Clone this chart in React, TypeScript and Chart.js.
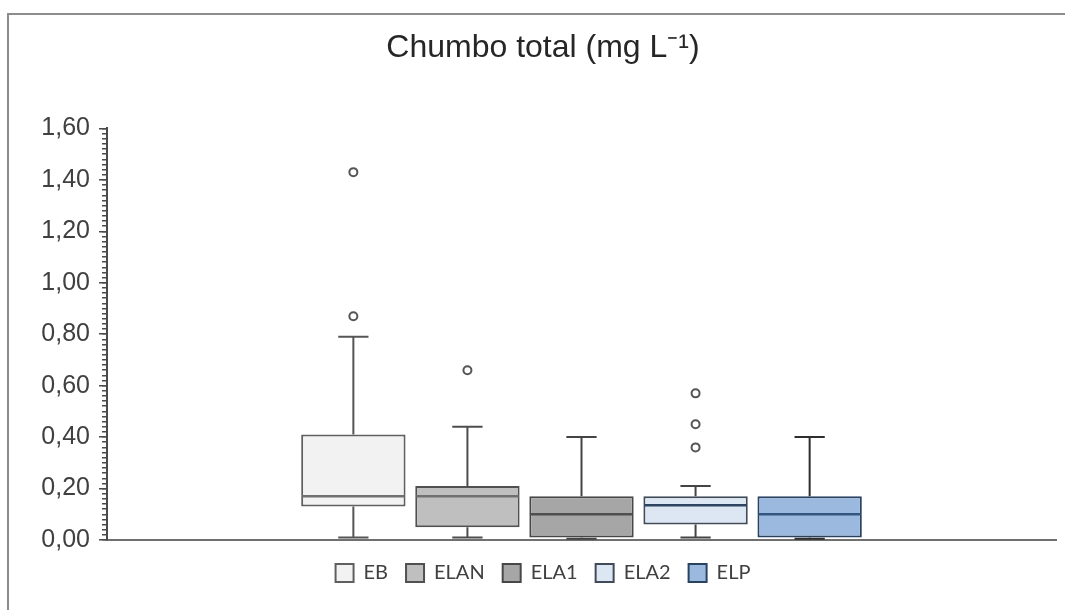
import React, { useEffect, useRef } from 'react';
import { Chart, registerables } from 'chart.js';

Chart.register(...registerables);

// ---- data ----
const titleText = 'Chumbo total (mg L⁻¹)';
const groups = ['EB', 'ELAN', 'ELA1', 'ELA2', 'ELP'];
const q1 = [0.13, 0.05, 0.01, 0.06, 0.01];
const q3 = [0.41, 0.21, 0.17, 0.17, 0.17];
const medians = [0.17, 0.17, 0.1, 0.135, 0.1];
const whiskerLow = [0.01, 0.01, 0.005, 0.01, 0.005];
const whiskerHigh = [0.79, 0.44, 0.4, 0.21, 0.4];
const outliers: number[][] = [[0.87, 1.43], [0.66], [], [0.36, 0.45, 0.57], []];
const yMin = 0;
const yMax = 1.6;
const yMajorStep = 0.2;
const yMinorStep = 0.02;

// ---- styles ----
const fills = ['#f2f2f2', '#bfbfbf', '#a6a6a6', '#dde6f3', '#9bb9de'];
const borders = ['#5f5f5f', '#505050', '#474747', '#404b5a', '#2a4262'];
const medianColors = ['#707070', '#707070', '#4f4f4f', '#2f4460', '#34577f'];
const whiskerColors = ['#555555', '#4d4d4d', '#444444', '#444444', '#2e2e2e'];

const boxDetails = {
  id: 'boxDetails',
  afterDatasetsDraw(chart: any) {
    const ctx = chart.ctx;
    const ys = chart.scales.y;
    groups.forEach((_, i) => {
      const bar: any = chart.getDatasetMeta(i).data[0];
      if (!bar) return;
      const x = bar.x;
      const w = bar.width;
      const cap = w * 0.29;
      const py = (v: number) => ys.getPixelForValue(v);
      ctx.save();
      ctx.lineCap = 'butt';
      // whiskers
      ctx.strokeStyle = whiskerColors[i];
      ctx.lineWidth = 2;
      ctx.beginPath();
      ctx.moveTo(x, py(q3[i]));
      ctx.lineTo(x, py(whiskerHigh[i]));
      ctx.moveTo(x - cap / 2, py(whiskerHigh[i]));
      ctx.lineTo(x + cap / 2, py(whiskerHigh[i]));
      ctx.moveTo(x, py(q1[i]));
      ctx.lineTo(x, py(whiskerLow[i]));
      ctx.moveTo(x - cap / 2, py(whiskerLow[i]));
      ctx.lineTo(x + cap / 2, py(whiskerLow[i]));
      ctx.stroke();
      // median
      ctx.strokeStyle = medianColors[i];
      ctx.lineWidth = 2.5;
      ctx.beginPath();
      ctx.moveTo(x - w / 2 + 1, py(medians[i]));
      ctx.lineTo(x + w / 2 - 1, py(medians[i]));
      ctx.stroke();
      // outliers
      outliers[i].forEach((v) => {
        ctx.beginPath();
        ctx.arc(x, py(v), 4, 0, Math.PI * 2);
        ctx.fillStyle = '#ffffff';
        ctx.fill();
        ctx.strokeStyle = '#555555';
        ctx.lineWidth = 2;
        ctx.stroke();
      });
      ctx.restore();
    });
  },
};

export default function App() {
  const ref = useRef<HTMLCanvasElement | null>(null);

  useEffect(() => {
    if (!ref.current) return;
    const chart = new Chart(ref.current, {
      type: 'bar',
      data: {
        labels: [''],
        datasets: groups.map((g, i) => ({
          label: g,
          data: [[q1[i], q3[i]]] as any,
          backgroundColor: fills[i],
          borderColor: borders[i],
          borderWidth: 2,
          borderSkipped: false,
          xAxisID: 'x',
          yAxisID: 'y',
          categoryPercentage: 0.601,
          barPercentage: 0.915,
        })),
      },
      options: {
        animation: false,
        responsive: false,
        maintainAspectRatio: false,
        events: [],
        layout: { padding: { left: 30, right: 9, top: 0, bottom: 17 } },
        plugins: {
          title: {
            display: true,
            text: titleText,
            color: '#262626',
            font: { family: 'Liberation Sans, Arial, sans-serif', size: 32, weight: 'normal' },
            padding: { top: 29, bottom: 61 },
          },
          legend: {
            display: true,
            position: 'bottom',
            labels: {
              boxWidth: 18,
              boxHeight: 18,
              padding: 18,
              color: '#404040',
              font: { family: 'Lato, Calibri, sans-serif', size: 20 },
            },
          },
          tooltip: { enabled: false },
        },
        scales: {
          x: {
            type: 'category',
            grid: { display: false, drawTicks: false },
            ticks: { display: false },
            border: { display: true, color: '#707070', width: 2 },
            afterFit: (s: any) => {
              s.height = 5;
            },
          },
          yMinor: {
            type: 'linear',
            position: 'left',
            min: yMin,
            max: yMax,
            weight: 0,
            ticks: { display: false, stepSize: yMinorStep },
            grid: { display: true, drawOnChartArea: false, drawTicks: true, tickLength: 5, color: '#4a4a4a', lineWidth: 1.5 },
            border: { display: false },
            afterFit: (s: any) => {
              s.width = 0;
            },
          },
          y: {
            type: 'linear',
            position: 'left',
            min: yMin,
            max: yMax,
            weight: 1,
            ticks: {
              stepSize: yMajorStep,
              padding: 9,
              color: '#404040',
              font: { family: 'Liberation Sans, Arial, sans-serif', size: 25 },
              callback: (v: any) => Number(v).toFixed(2).replace('.', ','),
            },
            grid: { display: true, drawOnChartArea: false, drawTicks: true, tickLength: 8, color: '#4a4a4a', lineWidth: 1.5 },
            border: { display: true, color: '#4a4a4a', width: 2 },
            afterFit: (s: any) => {
              s.width = 77;
            },
          },
        },
      } as any,
      plugins: [boxDetails],
    });
    return () => chart.destroy();
  }, []);

  return (
    <div style={{ position: 'fixed', left: 0, top: 0, width: 1065, height: 610, background: '#ffffff' }}>
      <div
        style={{
          position: 'absolute',
          left: 7,
          top: 13,
          right: 0,
          bottom: 0,
          borderTop: '2px solid #8c8c8c',
          borderLeft: '2px solid #8c8c8c',
        }}
      />
      <canvas ref={ref} width={1065} height={610} style={{ position: 'absolute', left: 0, top: 0, display: 'block' }} />
    </div>
  );
}
